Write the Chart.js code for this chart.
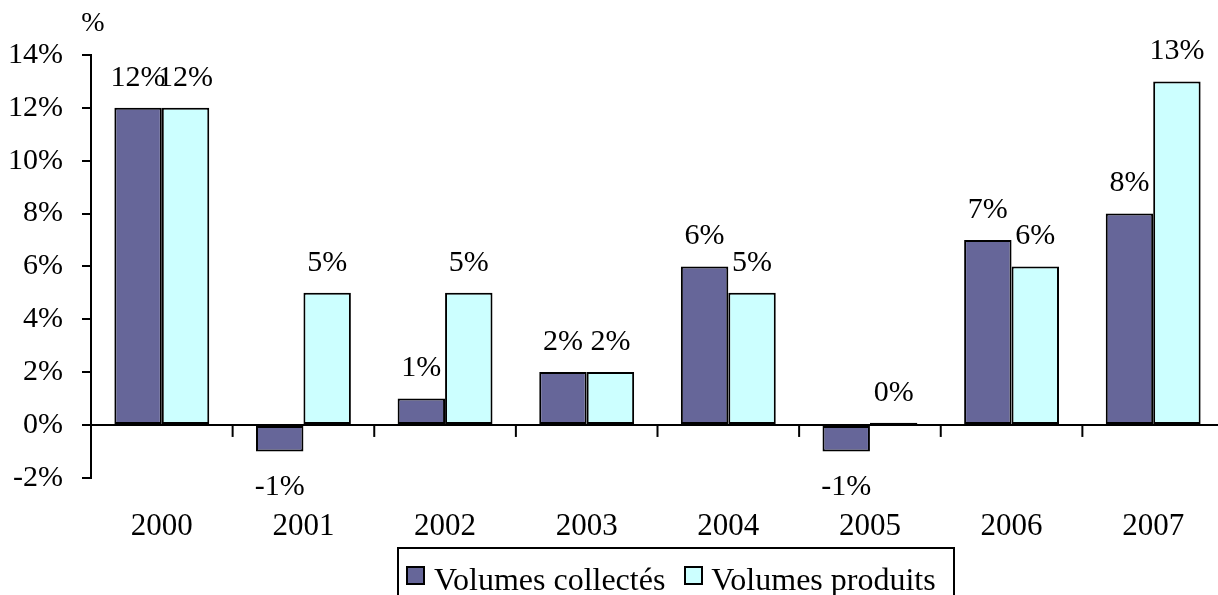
<!DOCTYPE html>
<html>
<head>
<meta charset="utf-8">
<script src="https://cdn.jsdelivr.net/npm/chart.js@4/dist/chart.umd.min.js"></script>
<style>
  html, body { margin: 0; padding: 0; background: #fff; overflow: hidden; }
  #wrap { position: relative; width: 1224px; height: 595px; }
  #legend {
    position: absolute; left: 397px; top: 547px; width: 554px; height: 60px;
    border: 2px solid #000; box-sizing: content-box;
    font-family: "Liberation Serif", "Times New Roman", serif; font-size: 32px;
    line-height: 36px; padding-top: 12px; white-space: nowrap;
  }
  #legend .box {
    display: inline-block; width: 15px; height: 15px; border: 2px solid #000;
    vertical-align: baseline; margin-bottom: 5px;
  }
</style>
</head>
<body>
<div id="wrap">
  <canvas id="volChart" width="1224" height="595"></canvas>
  <div id="legend">
    <span class="box" style="background:#666699;margin-left:7px;margin-right:9px"></span>Volumes collectés<span class="box" style="background:#CCFFFF;margin-left:19px;margin-right:8px"></span>Volumes produits
  </div>
</div>
<script>
// Volumes collectés / produits, annual change (%)
const years = ['2000', '2001', '2002', '2003', '2004', '2005', '2006', '2007'];
const collectes = [12, -1, 1, 2, 6, -1, 7, 8];
const produits = [12, 5, 5, 2, 5, 0.08, 6, 13];
const yTicks = [-2, 0, 2, 4, 6, 8, 10, 12, 14];

const serif = '"Liberation Serif", "Times New Roman", serif';

// value labels above / below each bar
const valueLabels = {
  id: 'valueLabels',
  afterDatasetsDraw(chart) {
    const ctx = chart.ctx;
    ctx.save();
    ctx.font = '30px ' + serif;
    ctx.fillStyle = '#000';
    ctx.textAlign = 'center';
    ctx.textBaseline = 'middle';
    chart.data.datasets.forEach(function(ds, i) {
      chart.getDatasetMeta(i).data.forEach(function(bar, j) {
        const v = ds.data[j];
        const txt = Math.round(v) + '%';
        if (v < 0) ctx.fillText(txt, bar.x, bar.y + 36);
        else ctx.fillText(txt, bar.x, bar.y - 30);
      });
    });
    ctx.restore();
  }
};

// small tick marks between categories, hanging under the zero line, and the "%" unit
const extras = {
  id: 'extras',
  afterDraw(chart) {
    const ctx = chart.ctx;
    const x = chart.scales.x;
    const y0 = chart.scales.y.getPixelForValue(0);
    ctx.save();
    ctx.strokeStyle = '#000';
    ctx.lineWidth = 2;
    for (let i = 1; i <= years.length; i++) {
      const px = (x.getPixelForValue(i - 1) + x.getPixelForValue(i)) / 2;
      ctx.beginPath();
      ctx.moveTo(px, y0);
      ctx.lineTo(px, y0 + 12);
      ctx.stroke();
    }
    ctx.font = '28px ' + serif;
    ctx.fillStyle = '#000';
    ctx.textAlign = 'center';
    ctx.textBaseline = 'middle';
    ctx.fillText('%', chart.chartArea.left + 2, 24);
    ctx.restore();
  }
};

new Chart(document.getElementById('volChart').getContext('2d'), {
  type: 'bar',
  data: {
    labels: years,
    datasets: [{
      label: 'Volumes collectés',
      data: collectes,
      backgroundColor: '#666699',
      borderColor: '#000',
      borderWidth: 2,
      borderSkipped: false
    }, {
      label: 'Volumes produits',
      data: produits,
      backgroundColor: '#CCFFFF',
      borderColor: '#000',
      borderWidth: 2,
      borderSkipped: false
    }]
  },
  options: {
    responsive: false,
    animation: false,
    layout: { padding: { top: 55, right: 0, bottom: 20, left: 0 } },
    categoryPercentage: 0.67,
    barPercentage: 1.0,
    plugins: {
      legend: { display: false },
      title: { display: false },
      tooltip: { enabled: false }
    },
    scales: {
      x: {
        grid: { display: false, drawTicks: false },
        border: { display: false },
        ticks: { color: '#000', font: { family: serif, size: 31 }, padding: 30, maxRotation: 0 }
      },
      y: {
        min: -2,
        max: 14,
        afterFit: function(scale) { scale.width = 91; },
        afterBuildTicks: function(scale) {
          scale.ticks = yTicks.map(function(v) { return { value: v }; });
        },
        grid: {
          color: function(c) { return c.tick && c.tick.value === 0 ? '#000' : 'rgba(0,0,0,0)'; },
          lineWidth: 2,
          tickColor: '#000',
          tickLength: 9,
          drawTicks: true
        },
        border: { display: true, color: '#000', width: 2 },
        ticks: {
          color: '#000',
          font: { family: serif, size: 30 },
          padding: 19,
          callback: function(value) { return value + '%'; }
        }
      }
    }
  },
  plugins: [valueLabels, extras]
});
</script>
</body>
</html>
